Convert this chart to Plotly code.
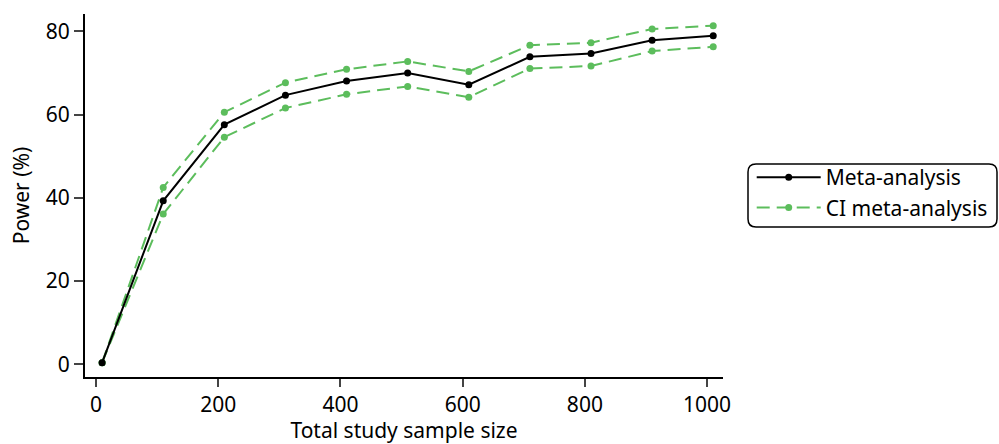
import plotly.graph_objects as go

sample_size = [10, 110, 210, 310, 410, 510, 610, 710, 810, 910, 1010]
power_meta = [0.4, 39.3, 57.6, 64.7, 68.1, 70.0, 67.2, 73.9, 74.7, 77.9, 79.0]
ci_upper = [0.4, 42.5, 60.6, 67.7, 70.9, 72.8, 70.4, 76.7, 77.3, 80.6, 81.4]
ci_lower = [0.4, 36.1, 54.6, 61.6, 64.9, 66.8, 64.2, 71.1, 71.7, 75.3, 76.3]
x_ticks = [0, 200, 400, 600, 800, 1000]
y_ticks = [0, 20, 40, 60, 80]

GREEN = "#5cbd5c"
FONT = "Noto Sans"
FS = 21

fig = go.Figure()
fig.add_trace(go.Scatter(
    x=sample_size, y=ci_upper, mode="lines+markers", name="CI meta-analysis",
    legendgroup="ci", showlegend=False,
    line=dict(color=GREEN, width=2, dash="13px,7px"),
    marker=dict(color=GREEN, size=7)))
fig.add_trace(go.Scatter(
    x=sample_size, y=ci_lower, mode="lines+markers", name="CI meta-analysis",
    legendgroup="ci", showlegend=False,
    line=dict(color=GREEN, width=2, dash="13px,7px"),
    marker=dict(color=GREEN, size=7)))
fig.add_trace(go.Scatter(
    x=sample_size, y=power_meta, mode="lines+markers", name="Meta-analysis",
    line=dict(color="black", width=2),
    marker=dict(color="black", size=7)))
# legend entry for CI
fig.add_trace(go.Scatter(
    x=[None], y=[None], mode="lines+markers", name="CI meta-analysis",
    legendgroup="ci",
    line=dict(color=GREEN, width=2, dash="13px,7px"),
    marker=dict(color=GREEN, size=7)))

fig.update_layout(
    width=999, height=444,
    margin=dict(l=85, r=276, t=14, b=67, autoexpand=False),
    paper_bgcolor="white", plot_bgcolor="white",
    font=dict(family=FONT, size=FS, color="black"),
    showlegend=True,
    legend=dict(
        x=1.045, y=0.606, xanchor="left", yanchor="top",
        bgcolor="rgba(0,0,0,0)", borderwidth=0,
        font=dict(family=FONT, size=FS, color="black"),
        itemwidth=64, tracegroupgap=0,
    ),
    xaxis=dict(
        range=[-18, 1026], tickvals=x_ticks, ticks="outside", ticklen=8,
        tickwidth=2, showline=True, linecolor="black", linewidth=2,
        showgrid=False, zeroline=False, automargin=False,
        title=dict(text="Total study sample size", standoff=20,
                   font=dict(family=FONT, size=FS)),
    ),
    yaxis=dict(
        range=[-3.05, 84.2], tickvals=y_ticks, ticks="outside", ticklen=9,
        tickwidth=2, showline=True, linecolor="black", linewidth=2,
        showgrid=False, zeroline=False, automargin=False,
        title=dict(text="Power (%)", standoff=10,
                   font=dict(family=FONT, size=FS)),
    ),
)

# rounded legend frame (paper coords)
x0 = (748 - 85) / 638
x1 = (997 - 85) / 638
y0 = (377 - 227) / 363
y1 = (377 - 164) / 363
rx = 8 / 638
ry = 8 / 363
path = (f"M {x0+rx},{y1} L {x1-rx},{y1} Q {x1},{y1} {x1},{y1-ry} "
        f"L {x1},{y0+ry} Q {x1},{y0} {x1-rx},{y0} L {x0+rx},{y0} "
        f"Q {x0},{y0} {x0},{y0+ry} L {x0},{y1-ry} Q {x0},{y1} {x0+rx},{y1} Z")
fig.add_shape(type="path", path=path, xref="paper", yref="paper",
              line=dict(color="black", width=1.5))

fig.write_html("out.html")
